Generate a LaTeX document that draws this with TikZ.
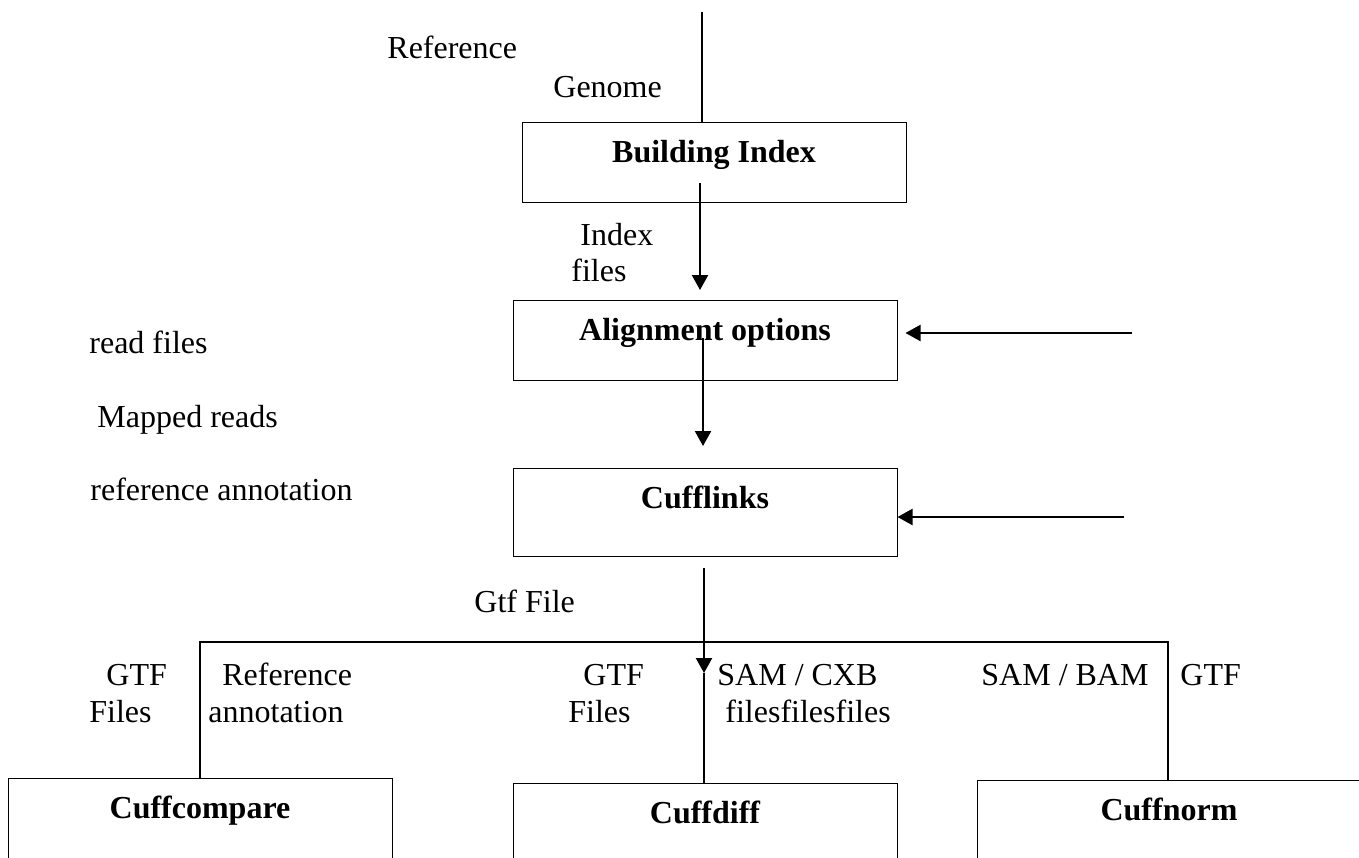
\documentclass[tikz,border=0pt]{standalone}
\usepackage{fontspec}
\setmainfont{Liberation Serif}
\usetikzlibrary{positioning, arrows.meta}

\begin{document}
\begin{tikzpicture}[x=0.5pt, y=-0.5pt,
    font=\fontsize{16}{18.5}\selectfont,
    stage/.style={rectangle, draw, line width=0.5pt, font=\fontsize{16}{18.5}\selectfont\bfseries,
        minimum width=192pt, inner sep=0pt, text height=20pt, text depth=20pt, anchor=north},
    lbl/.style={anchor=base west, inner sep=0pt},
    flow/.style={line width=1.1pt, -{Triangle[length=7.5pt, width=8pt]}},
    link/.style={line width=0.8pt}]
    \useasboundingbox (0,0) rectangle (1359,857);
    \clip (0,0) rectangle (1359,857);

    % Nodes
    \node (index) [stage] at (714,122) {Building Index};
    \node (align) [stage] at (705,300) {Alignment options};
    \node (cufflinks) [stage, text depth=24pt] at (705,468) {Cufflinks};
    \node (compare) [stage, text depth=40pt] at (200,778) {Cuffcompare};
    \node (diff) [stage, text depth=40pt] at (705,783) {Cuffdiff};
    \node (norm) [stage, text depth=40pt] at (1169,780) {Cuffnorm};

    % Labels
    \node (genome1) [lbl] at (387,58) {Reference};
    \node (genome2) [lbl] at (553,97) {Genome};
    \node (idxfiles1) [lbl] at (580,245) {Index};
    \node (idxfiles2) [lbl] at (571,281) {files};
    \node (readfiles) [lbl] at (89,353) {read files};
    \node (mapped) [lbl] at (97,427) {Mapped reads};
    \node (refannot) [lbl] at (90,500) {reference annotation};
    \node (gtffile) [lbl] at (474,612) {Gtf File};
    \node (gtfa1) [lbl] at (106,685) {GTF};
    \node (gtfa2) [lbl] at (89,722) {Files};
    \node (annota1) [lbl] at (222,685) {Reference};
    \node (annota2) [lbl] at (208,722) {annotation};
    \node (gtfb1) [lbl] at (583,685) {GTF};
    \node (gtfb2) [lbl] at (568,722) {Files};
    \node (samcxb1) [lbl] at (717,685) {SAM / CXB};
    \node (samcxb2) [lbl] at (725,722) {filesfilesfiles};
    \node (sambam) [lbl] at (981,685) {SAM / BAM};
    \node (gtfc) [lbl] at (1180,685) {GTF};

    % Arrows
    \coordinate (genome-in) at (702,12);
    \coordinate (index-out) at (700,183);
    \coordinate (reads-in) at (1132,333);
    \coordinate (align-out) at (703,338);
    \coordinate (annot-in) at (1124,517);
    \coordinate (gtf-out) at (704,568);
    \coordinate (gtf-tip) at (704,673);
    \coordinate (split-l) at (200,642);
    \coordinate (split-r) at (1168,642);

    \draw[line width=1pt] (genome-in) -- (genome-in |- index.north);
    \draw[flow, shorten >=5pt] (index-out) -- (index-out |- align.north);
    \draw[flow, shorten >=4pt] (reads-in) -- (reads-in -| align.east);
    \draw[flow, shorten >=11pt] (align-out) -- (align-out |- cufflinks.north);
    \draw[flow] (annot-in) -- (annot-in -| cufflinks.east);
    \draw[flow] (gtf-out) -- (gtf-tip);
    \draw[line width=1.1pt] (gtf-tip) -- (gtf-tip |- diff.north);
    \draw[link] (compare.north) -- (split-l) -- (split-r) -- (split-r |- norm.north);
\end{tikzpicture}
\end{document}
